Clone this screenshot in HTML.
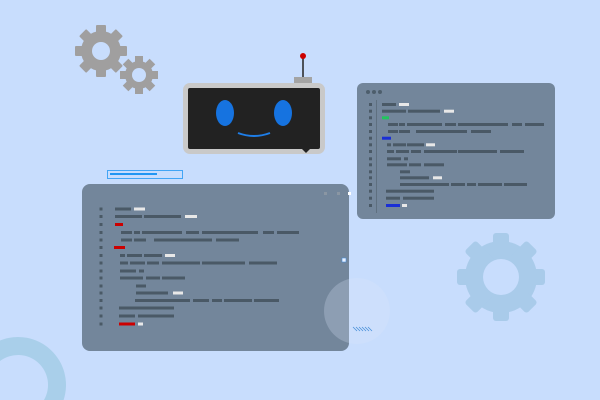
<!DOCTYPE html>
<html><head><meta charset="utf-8"><style>html,body{margin:0;padding:0;background:#c8ddfd;width:600px;height:400px;overflow:hidden}svg{display:block}</style></head>
<body>
<svg width="600" height="400" viewBox="0 0 600 400" xmlns="http://www.w3.org/2000/svg">
<rect width="600" height="400" fill="#c8ddfd"/>
<path d="M0 340.5 A48 48 0 0 1 63.6 400 L44 400 A30 30 0 0 0 0 361 Z" fill="#a9cfea"/>
<g fill="#a09f9f">
 <g transform="translate(101,51)">
  <circle r="20"/>
  <g><rect x="-5" y="-26" width="10" height="52" rx="1"/><rect x="-5" y="-26" width="10" height="52" rx="1" transform="rotate(45)"/><rect x="-5" y="-26" width="10" height="52" rx="1" transform="rotate(90)"/><rect x="-5" y="-26" width="10" height="52" rx="1" transform="rotate(135)"/></g>
  <circle r="9" fill="#c8ddfd"/>
 </g>
 <g transform="translate(139,75)">
  <circle r="14"/>
  <rect x="-4" y="-19" width="8" height="38"/><rect x="-4" y="-19" width="8" height="38" transform="rotate(45)"/><rect x="-4" y="-19" width="8" height="38" transform="rotate(90)"/><rect x="-4" y="-19" width="8" height="38" transform="rotate(135)"/>
  <circle r="7" fill="#c8ddfd"/>
 </g>
</g>
<g fill="#a9cbea" transform="translate(501,277)">
 <circle r="36"/>
 <rect x="-8" y="-44" width="16" height="88" rx="3"/><rect x="-8" y="-44" width="16" height="88" rx="3" transform="rotate(45)"/><rect x="-8" y="-44" width="16" height="88" rx="3" transform="rotate(90)"/><rect x="-8" y="-44" width="16" height="88" rx="3" transform="rotate(135)"/>
 <circle r="18" fill="#c8ddfd"/>
</g>
<line x1="303" y1="56" x2="303" y2="78" stroke="#222" stroke-width="1.5"/>
<circle cx="303" cy="56" r="3" fill="#cc0000"/>
<rect x="294" y="77" width="18" height="6" fill="#a4a4a4"/>
<rect x="183" y="83" width="142" height="71" rx="7" fill="#c9c9c9"/>
<rect x="188" y="88" width="132" height="61" rx="2" fill="#222"/>
<polygon points="302,149 310,149 306,153" fill="#222"/>
<ellipse cx="225" cy="113" rx="9" ry="13" fill="#1673e0"/>
<ellipse cx="283" cy="113" rx="9" ry="13" fill="#1673e0"/>
<path d="M238 133 Q254 139 270 133" fill="none" stroke="#1e7ee8" stroke-width="2"/>
<rect x="107.5" y="170.5" width="75" height="8" fill="none" stroke="#42a5f5"/>
<rect x="110" y="173" width="47" height="2" fill="#2196f3"/>
<rect x="357" y="83" width="198" height="136" rx="6" fill="#73869b"/>
<g fill="#4d5e6c"><circle cx="368" cy="92" r="2"/><circle cx="374" cy="92" r="2"/><circle cx="380" cy="92" r="2"/></g>
<line x1="376.5" y1="100" x2="376.5" y2="213" stroke="#5f7080" stroke-width="1"/>
<g fill="#4a5966">
<rect x="369" y="103" width="3" height="3"/><rect x="369" y="109.7" width="3" height="3"/><rect x="369" y="116.3" width="3" height="3"/><rect x="369" y="123" width="3" height="3"/><rect x="369" y="130" width="3" height="3"/><rect x="369" y="136.7" width="3" height="3"/><rect x="369" y="143.3" width="3" height="3"/><rect x="369" y="150" width="3" height="3"/><rect x="369" y="157.3" width="3" height="3"/><rect x="369" y="163.3" width="3" height="3"/><rect x="369" y="170.3" width="3" height="3"/><rect x="369" y="176.3" width="3" height="3"/><rect x="369" y="183" width="3" height="3"/><rect x="369" y="189.7" width="3" height="3"/><rect x="369" y="196.7" width="3" height="3"/><rect x="369" y="204" width="3" height="3"/>
<rect x="382" y="103" width="14" height="3"/>
<rect x="382" y="109.7" width="24" height="3"/><rect x="408" y="109.7" width="32" height="3"/>
<rect x="388" y="123" width="10" height="3"/><rect x="399" y="123" width="6" height="3"/><rect x="407" y="123" width="35" height="3"/><rect x="445" y="123" width="11" height="3"/><rect x="458" y="123" width="50" height="3"/><rect x="512" y="123" width="10" height="3"/><rect x="525" y="123" width="19" height="3"/>
<rect x="388" y="130" width="10" height="3"/><rect x="399" y="130" width="11" height="3"/><rect x="416" y="130" width="51" height="3"/><rect x="471" y="130" width="20" height="3"/>
<rect x="387" y="143.3" width="4" height="3"/><rect x="393" y="143.3" width="13" height="3"/><rect x="407" y="143.3" width="17" height="3"/>
<rect x="387" y="150" width="7" height="3"/><rect x="396" y="150" width="13" height="3"/><rect x="411" y="150" width="10" height="3"/><rect x="424" y="150" width="33" height="3"/><rect x="458" y="150" width="39" height="3"/><rect x="500" y="150" width="24" height="3"/>
<rect x="387" y="157.3" width="14" height="3"/><rect x="404" y="157.3" width="4" height="3"/>
<rect x="387" y="163.3" width="20" height="3"/><rect x="409" y="163.3" width="12" height="3"/><rect x="424" y="163.3" width="20" height="3"/>
<rect x="400" y="170.3" width="10" height="3"/>
<rect x="400" y="176.3" width="29" height="3"/>
<rect x="400" y="183" width="49" height="3"/><rect x="451" y="183" width="14" height="3"/><rect x="467" y="183" width="9" height="3"/><rect x="478" y="183" width="24" height="3"/><rect x="504" y="183" width="23" height="3"/>
<rect x="386" y="189.7" width="48" height="3"/>
<rect x="386" y="196.7" width="14" height="3"/><rect x="403" y="196.7" width="31" height="3"/>
</g>
<g fill="#e8e8e8"><rect x="399" y="103" width="10" height="3"/><rect x="444" y="109.7" width="10" height="3"/><rect x="426" y="143.3" width="9" height="3"/><rect x="433" y="176.3" width="9" height="3"/><rect x="402" y="204" width="5" height="3"/></g>
<rect x="382" y="116.3" width="7" height="3" fill="#22c55e"/>
<rect x="382" y="136.7" width="9" height="3" fill="#1a2fd6"/>
<rect x="386" y="204" width="14" height="3" fill="#1a2fd6"/>
<rect x="82" y="184" width="267" height="167" rx="8" fill="#73869b"/>
<circle cx="357" cy="311" r="33" fill="#dbe8fb" opacity="0.25"/>
<g stroke="#4a90d9" stroke-width="0.8"><line x1="353" y1="327" x2="357" y2="331"/><line x1="356" y1="327" x2="360" y2="331"/><line x1="359" y1="327" x2="363" y2="331"/><line x1="362" y1="327" x2="366" y2="331"/><line x1="365" y1="327" x2="369" y2="331"/><line x1="368" y1="327" x2="372" y2="331"/></g>
<rect x="324" y="192" width="3" height="3" fill="#8a96a3"/><rect x="337" y="192" width="3" height="3" fill="#8a96a3"/><rect x="348" y="192" width="3" height="3" fill="#fff"/>
<rect x="342" y="258" width="4" height="4" fill="#e8f0ff" stroke="#4a90d9" stroke-width="0.6"/>
<g fill="#4a5966">
<rect x="99.5" y="207.5" width="3" height="3"/><rect x="99.5" y="215" width="3" height="3"/><rect x="99.5" y="223" width="3" height="3"/><rect x="99.5" y="231" width="3" height="3"/><rect x="99.5" y="238.5" width="3" height="3"/><rect x="99.5" y="246" width="3" height="3"/><rect x="99.5" y="254" width="3" height="3"/><rect x="99.5" y="261.5" width="3" height="3"/><rect x="99.5" y="269.5" width="3" height="3"/><rect x="99.5" y="276.5" width="3" height="3"/><rect x="99.5" y="284.5" width="3" height="3"/><rect x="99.5" y="291.5" width="3" height="3"/><rect x="99.5" y="299" width="3" height="3"/><rect x="99.5" y="306.5" width="3" height="3"/><rect x="99.5" y="314.5" width="3" height="3"/><rect x="99.5" y="322.5" width="3" height="3"/>
<rect x="115" y="207.5" width="16" height="3"/>
<rect x="115" y="215" width="27" height="3"/><rect x="144" y="215" width="37" height="3"/>
<rect x="121" y="231" width="11" height="3"/><rect x="134" y="231" width="6" height="3"/><rect x="142" y="231" width="40" height="3"/><rect x="186" y="231" width="13" height="3"/><rect x="202" y="231" width="56" height="3"/><rect x="263" y="231" width="11" height="3"/><rect x="277" y="231" width="22" height="3"/>
<rect x="121" y="238.5" width="11" height="3"/><rect x="134" y="238.5" width="12" height="3"/><rect x="154" y="238.5" width="58" height="3"/><rect x="216" y="238.5" width="23" height="3"/>
<rect x="120" y="254" width="5" height="3"/><rect x="127" y="254" width="15" height="3"/><rect x="144" y="254" width="18" height="3"/>
<rect x="120" y="261.5" width="8" height="3"/><rect x="130" y="261.5" width="15" height="3"/><rect x="147" y="261.5" width="12" height="3"/><rect x="162" y="261.5" width="38" height="3"/><rect x="202" y="261.5" width="43" height="3"/><rect x="249" y="261.5" width="28" height="3"/>
<rect x="120" y="269.5" width="16" height="3"/><rect x="139" y="269.5" width="5" height="3"/>
<rect x="120" y="276.5" width="23" height="3"/><rect x="146" y="276.5" width="14" height="3"/><rect x="162" y="276.5" width="23" height="3"/>
<rect x="136" y="284.5" width="10" height="3"/>
<rect x="136" y="291.5" width="32" height="3"/>
<rect x="135" y="299" width="55" height="3"/><rect x="193" y="299" width="16" height="3"/><rect x="212" y="299" width="10" height="3"/><rect x="224" y="299" width="28" height="3"/><rect x="254" y="299" width="25" height="3"/>
<rect x="119" y="306.5" width="55" height="3"/>
<rect x="119" y="314.5" width="16" height="3"/><rect x="138" y="314.5" width="36" height="3"/>
</g>
<g fill="#e8e8e8"><rect x="134" y="207.5" width="11" height="3"/><rect x="185" y="215" width="12" height="3"/><rect x="165" y="254" width="10" height="3"/><rect x="173" y="291.5" width="10" height="3"/><rect x="138" y="322.5" width="5" height="3"/></g>
<g fill="#cc0000"><rect x="115" y="223" width="8" height="3"/><rect x="114" y="246" width="11" height="3"/><rect x="119" y="322.5" width="16" height="3"/></g>
</svg>
</body></html>
